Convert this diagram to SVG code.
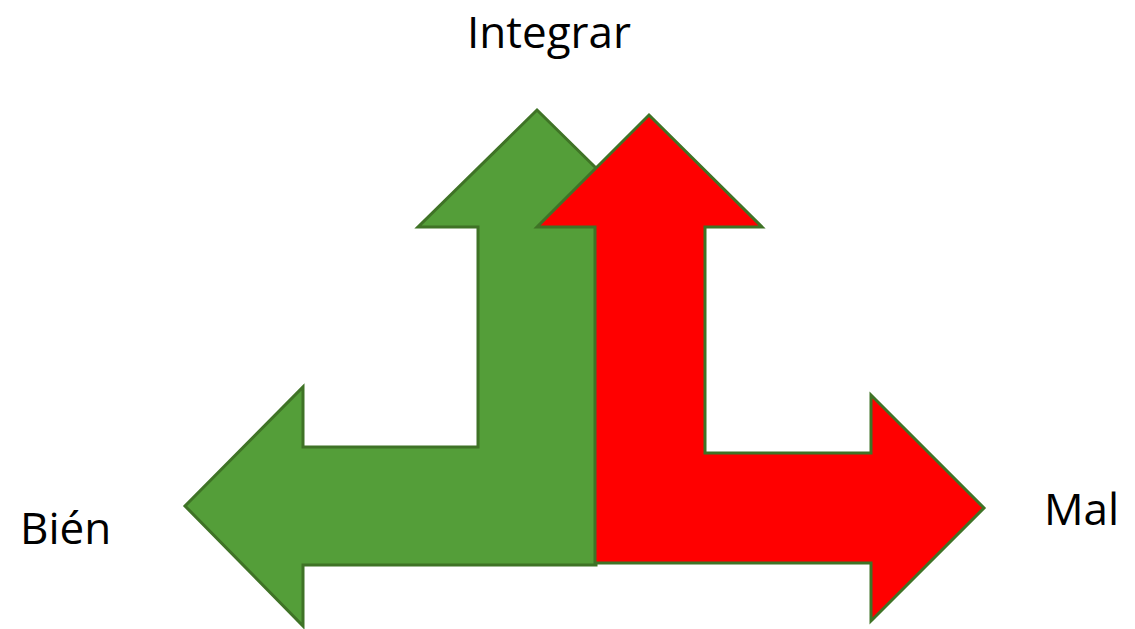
<svg xmlns="http://www.w3.org/2000/svg" width="1135" height="629" viewBox="0 0 1135 629">
<style>
.lbl{font-family:"Open Sans","Liberation Sans",sans-serif;font-size:44px;fill:#000}
.arrow{stroke:#3f7326;stroke-width:3;stroke-linejoin:miter}
.green{fill:#549e39}
.red{fill:#ff0000}
</style>
<rect width="1135" height="629" fill="#ffffff"/>
<g id="connectors">
<g id="arrow-green">
<path class="arrow green" d="M537,110 L656,227 L596,227 L596,565 L303,565 L303,626 L185,506 L303,387 L303,447 L478,447 L478,227 L418,227 Z"/>
</g>
<g id="arrow-red">
<path class="arrow red" d="M649,115 L762,227 L705,227 L705,453 L871,453 L871,395 L984,508 L871,621 L871,563 L595,563 L595,227 L537,227 Z"/>
</g>
</g>
<g id="node-integrar"><text class="lbl" x="467" y="48">Integrar</text></g>
<g id="node-bien"><text class="lbl" x="20" y="544">Bién</text></g>
<g id="node-mal"><text class="lbl" x="1044" y="525">Mal</text></g>
</svg>
